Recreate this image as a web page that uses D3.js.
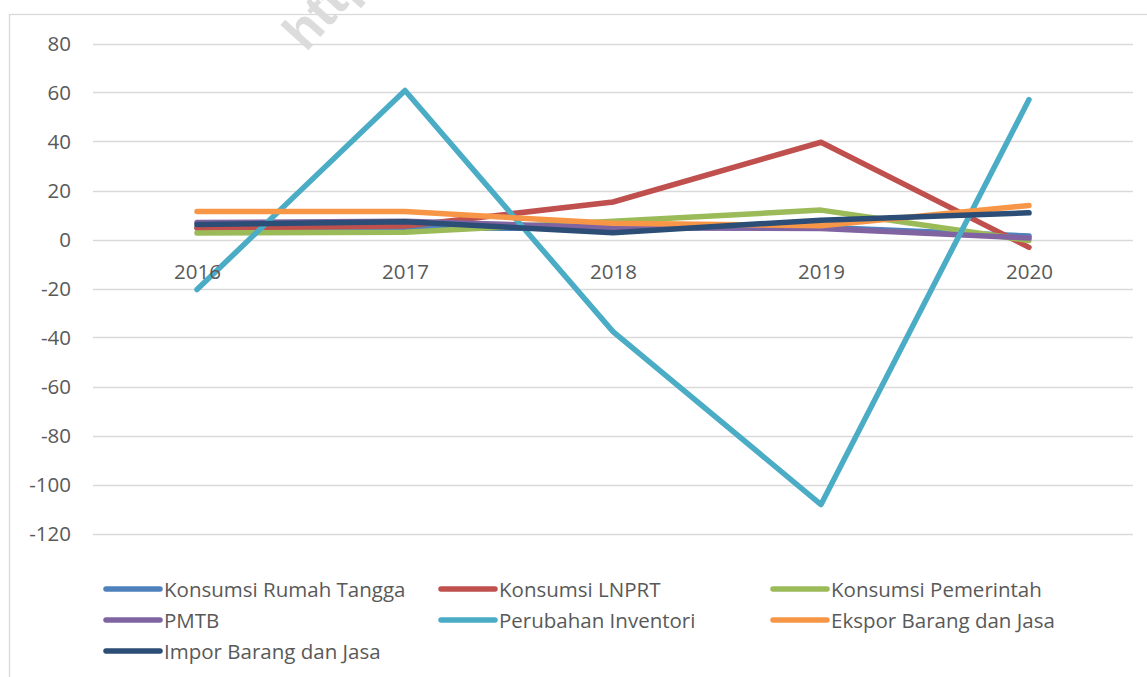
<!DOCTYPE html>
<html>
<head>
    <meta charset="utf-8">
    <title>Pertumbuhan Komponen PDB</title>
    <script src="https://d3js.org/d3.v7.min.js"></script>
    <style>
        body { margin: 0; background: #fff; }
        #chart { display: block; }
    </style>
</head>
<body>
<svg id="chart"></svg>
<script>
    const years = ['2016', '2017', '2018', '2019', '2020'];
    const yTicks = [80, 60, 40, 20, 0, -20, -40, -60, -80, -100, -120];

    const seriesNames = ['Konsumsi Rumah Tangga', 'Konsumsi LNPRT', 'Konsumsi Pemerintah',
        'PMTB', 'Perubahan Inventori', 'Ekspor Barang dan Jasa', 'Impor Barang dan Jasa'];
    const rumahTangga = [5.0, 4.6, 4.6, 5.0, 1.4];
    const lnprt = [4.6, 5.5, 15.3, 39.7, -3.2];
    const pemerintah = [2.7, 3.0, 7.4, 12.0, -0.4];
    const pmtb = [6.9, 7.5, 4.8, 4.5, 0.6];
    const inventori = [-20.4, 60.8, -37.6, -108.2, 57.1];
    const ekspor = [11.4, 11.4, 6.6, 5.6, 13.9];
    const impor = [6.1, 7.2, 2.8, 7.9, 10.9];

    const allValues = [rumahTangga, lnprt, pemerintah, pmtb, inventori, ekspor, impor];
    const colors = ['#4f81bd', '#c0504d', '#9bbb59', '#8064a2', '#4bacc6', '#f79646', '#2c4d75'];

    const width = 1147, height = 677;
    const font = '"Open Sans", "Noto Sans", sans-serif';
    const fontSize = 20.5;

    const svg = d3.select('#chart')
        .attr('width', width)
        .attr('height', height);

    // chart border
    svg.append('rect')
        .attr('x', 9.5)
        .attr('y', 14.5)
        .attr('width', width)
        .attr('height', height)
        .attr('fill', 'none')
        .attr('stroke', '#d9d9d9')
        .attr('stroke-width', 1.3);

    // watermark (cut by the top edge, as in the original)
    svg.append('text')
        .attr('transform', 'translate(306,53) rotate(-48)')
        .attr('font-family', 'Arial, "Liberation Sans", sans-serif')
        .attr('font-weight', 'bold')
        .attr('font-size', 52)
        .attr('fill', '#dcdcdc')
        .text('http');

    const x = d3.scalePoint()
        .domain(years)
        .range([93, 1133])
        .padding(0.5);

    const y = d3.scaleLinear()
        .domain([-120, 80])
        .range([533.5, 43.5]);

    // gridlines
    svg.append('g')
        .selectAll('line')
        .data(yTicks)
        .join('line')
        .attr('x1', 93)
        .attr('x2', 1133)
        .attr('y1', d => Math.round(y(d)) + 0.5)
        .attr('y2', d => Math.round(y(d)) + 0.5)
        .attr('stroke', '#d9d9d9')
        .attr('stroke-width', 1.5);

    // y axis labels
    const yAxis = d3.axisLeft(y)
        .tickValues(yTicks)
        .tickFormat(d => String(d))
        .tickSize(0)
        .tickPadding(0);
    svg.append('g')
        .attr('transform', 'translate(71,0)')
        .call(yAxis)
        .call(g => g.select('.domain').remove())
        .selectAll('text')
        .attr('font-family', font)
        .attr('font-size', fontSize)
        .attr('fill', '#595959');

    const line = d3.line()
        .x((d, i) => x(years[i]))
        .y(d => y(d));

    svg.append('g')
        .selectAll('path')
        .data(allValues)
        .join('path')
        .attr('d', d => line(d))
        .attr('fill', 'none')
        .attr('stroke', (d, i) => colors[i])
        .attr('stroke-width', 5.5)
        .attr('stroke-linecap', 'round')
        .attr('stroke-linejoin', 'round');

    // category labels (axis crosses at zero), drawn over the lines
    const xAxis = d3.axisBottom(x).tickSize(0).tickPadding(0);
    svg.append('g')
        .attr('transform', `translate(0,${y(0) + 25})`)
        .call(xAxis)
        .call(g => g.select('.domain').remove())
        .selectAll('text')
        .attr('font-family', font)
        .attr('font-size', fontSize)
        .attr('fill', '#595959');

    // legend
    const legendX = [106, 441, 773];
    const legendY = [589, 620, 651];
    const legend = svg.append('g');
    seriesNames.forEach((name, i) => {
        const lx = legendX[i % 3];
        const ly = legendY[Math.floor(i / 3)];
        legend.append('line')
            .attr('x1', lx)
            .attr('x2', lx + 54)
            .attr('y1', ly)
            .attr('y2', ly)
            .attr('stroke', colors[i])
            .attr('stroke-width', 5.5)
            .attr('stroke-linecap', 'round');
        legend.append('text')
            .attr('x', lx + 58)
            .attr('y', ly)
            .attr('dy', '0.37em')
            .attr('font-family', font)
            .attr('font-size', fontSize)
            .attr('fill', '#595959')
            .text(name);
    });
</script>
</body>
</html>
